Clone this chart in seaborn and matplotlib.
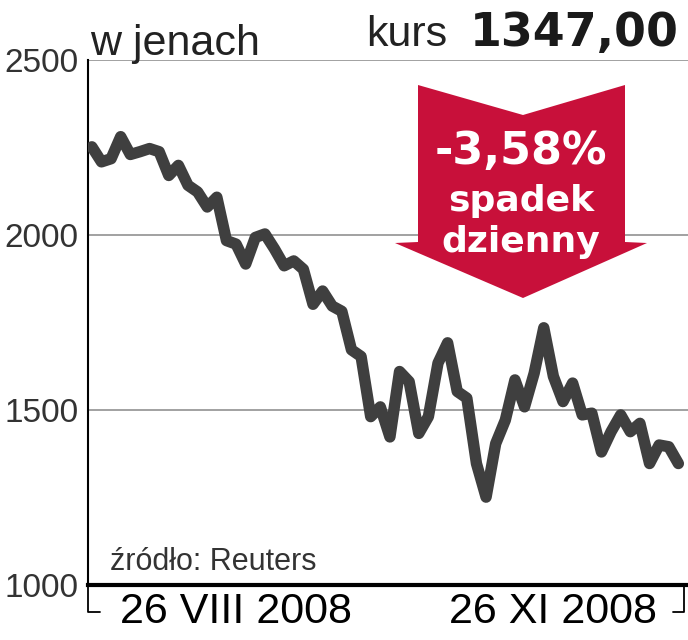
import numpy as np
import pandas as pd
import matplotlib
matplotlib.use("Agg")
import matplotlib.pyplot as plt
import seaborn as sns
from matplotlib.patches import Polygon
from matplotlib.lines import Line2D

# kurs w jenach, 26 VIII 2008 - 26 XI 2008
price = [2252, 2209, 2218, 2281, 2230, 2238, 2247, 2238, 2170, 2199,
         2142, 2123, 2080, 2108, 1984, 1974, 1917, 1993, 2003, 1960,
         1912, 1926, 1902, 1802, 1840, 1797, 1782, 1672, 1653, 1481,
         1509, 1423, 1610, 1581, 1433, 1481, 1634, 1692, 1553, 1534,
         1347, 1251, 1404, 1471, 1586, 1509, 1605, 1735, 1596, 1524,
         1577, 1486, 1491, 1380, 1438, 1486, 1438, 1462, 1347, 1400,
         1395, 1347]
day = list(range(len(price)))
y_ticks = [1000, 1500, 2000, 2500]
x_tick_pos = [15, 48]
x_tick_labels = ["26 VIII 2008", "26 XI 2008"]

sns.set_style("white")
plt.rcParams['font.family'] = ['Liberation Sans', 'DejaVu Sans']

W, H = 688, 640
def px(x, y):
    # piksele -> wspolrzedne figury
    return (x / W, 1 - y / H)

fig = plt.figure(figsize=(W / 100, H / 100), dpi=100)
ax = fig.add_axes([88 / W, 1 - 585 / H, 600 / W, 525 / H])

df = pd.DataFrame({"dzien": day, "kurs": price})
sns.lineplot(data=df, x="dzien", y="kurs", ax=ax, color="#3f3f3f",
             linewidth=8.2, solid_joinstyle="round", solid_capstyle="round",
             zorder=3)

ax.set_xlim(-0.4, 62.0)
ax.set_ylim(1000, 2500)
for v in y_ticks[1:]:
    ax.axhline(v, color="#9a9a9a", lw=1.3, zorder=1)

ax.set_yticks(y_ticks)
ax.set_yticklabels([str(v) for v in y_ticks], fontsize=24, color="#333333")
ax.set_xticks(x_tick_pos)
ax.set_xticklabels(x_tick_labels, fontsize=31, color="black")
ax.tick_params(axis="y", length=0, pad=7)
ax.tick_params(axis="x", length=0, pad=5)
ax.set_xlabel("")
ax.set_ylabel("")

for s in ["top", "right"]:
    ax.spines[s].set_visible(False)
ax.spines["left"].set_linewidth(1.5)
ax.spines["left"].set_color("black")
ax.spines["bottom"].set_linewidth(3)
ax.spines["bottom"].set_color("black")

# nawiasy pod osia
for pts in ([(88, 585), (88, 612), (100, 612)], [(673, 612), (684, 612), (684, 585)]):
    xs, ys = zip(*[px(*p) for p in pts])
    fig.add_artist(Line2D(xs, ys, color="black", lw=1.3, transform=fig.transFigure))

# teksty
fig.text(*px(90, 55), "w jenach", fontsize=31, color="#222222", ha="left", va="baseline")
fig.text(*px(447, 46), "kurs", fontsize=31, color="#222222", ha="right", va="baseline")
fig.text(*px(679, 46), "1347,00", fontsize=33, fontweight="bold", family="DejaVu Sans",
         color="#1a1a1a", ha="right", va="baseline")
fig.text(*px(110, 570), "źródło: Reuters", fontsize=22, color="#333333", ha="left", va="baseline")

# czerwona strzalka
arrow_px = [(418, 85), (523, 115), (625, 85), (625, 242), (647, 243),
            (523, 298), (395, 243), (418, 242)]
fig.add_artist(Polygon([px(*p) for p in arrow_px], closed=True, facecolor="#c8103a",
                       edgecolor="none", transform=fig.transFigure, zorder=5))
fig.text(*px(521, 152), "-3,58%", fontsize=32, fontweight="bold", family="DejaVu Sans",
         color="white", ha="center", va="center", zorder=6)
fig.text(*px(521, 211), "spadek", fontsize=26, fontweight="bold", family="DejaVu Sans",
         color="white", ha="center", va="baseline", zorder=6)
fig.text(*px(521, 252), "dzienny", fontsize=26, fontweight="bold", family="DejaVu Sans",
         color="white", ha="center", va="baseline", zorder=6)

fig.savefig("out.png", dpi=100)
